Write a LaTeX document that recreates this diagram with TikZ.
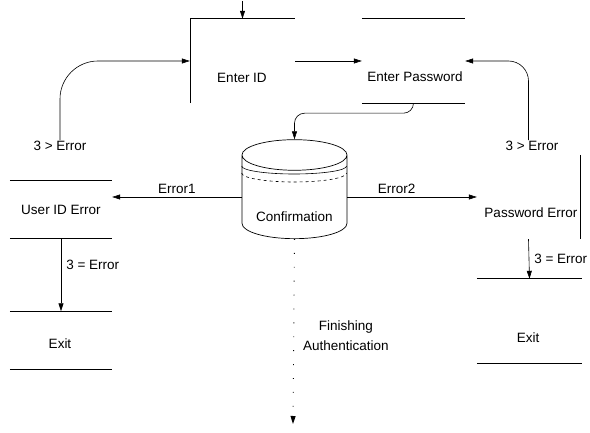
\documentclass[tikz,border=0pt]{standalone}
\usepackage{fontspec}
\setmainfont{Liberation Sans}
\usetikzlibrary{shapes.geometric, arrows.meta, positioning, calc}
\tikzset{
  box/.style={rectangle, inner sep=0pt, font=\fontsize{13.5}{20}\selectfont},
  txt/.style={inner sep=1pt, font=\fontsize{13.5}{20}\selectfont},
  store/.style={cylinder, shape border rotate=90, aspect=0.4, draw,
    minimum width=105pt, minimum height=99pt, inner sep=0pt,
    line width=0.7pt, font=\fontsize{13.5}{20}\selectfont},
  arrow/.style={-{Triangle[length=8pt, width=5pt]}, line width=0.6pt},
  line/.style={line width=0.6pt},
  dotflow/.style={-{Triangle[length=8pt, width=5pt]}, line width=0.9pt,
    dash pattern=on 0.9pt off 13pt}
}
\begin{document}
\begin{tikzpicture}[x=1pt, y=-1pt]
  \useasboundingbox (0,0) rectangle (590,433);

  % boxes
  \node[box, minimum width=105pt, minimum height=84pt] (enterid) at (242.5,61) {};
  \node[txt] (enteridtxt) at (242,78) {Enter ID};
  \node[box, minimum width=103pt, minimum height=84pt] (enterpw) at (413.5,61) {};
  \node[txt] (enterpwtxt) at (415,77) {Enter Password};
  \node[store] (confirm) at (294.5,197) {\raisebox{-20pt}[\height][\depth]{Confirmation}};
  \node[box, minimum width=102pt, minimum height=57pt] (uiderr) at (61,209.5) {User ID Error};
  \node[box, minimum width=102pt, minimum height=58pt] (exitl) at (61,340.5) {};
  \node[txt] (exitltxt) at (60,344) {Exit};
  \node[box, minimum width=103pt, minimum height=84pt] (pwerr) at (528.5,197) {};
  \node[txt] (pwerrtxt) at (531,213) {Password Error};
  \node[box, minimum width=105pt, minimum height=84pt] (exitr) at (529.5,321) {};
  \node[txt] (exitrtxt) at (528,338) {Exit};

  % box edges
  \draw[line] (enterid.south west) -- (enterid.north west) -- (enterid.north east);
  \foreach \b in {enterpw, uiderr, exitl, exitr}
    \draw[line] (\b.north west) -- (\b.north east) (\b.south west) -- (\b.south east);
  \draw[line] (pwerr.north east) -- (pwerr.south east);

  % layers of the store
  \draw[line] ($(confirm.west)+(0,-31)$) arc[start angle=180, end angle=360, x radius=52.5pt, y radius=8pt];
  \draw[line, dashed] ($(confirm.west)+(0,-24)$) arc[start angle=180, end angle=360, x radius=52.5pt, y radius=9pt];

  % loose ends
  \coordinate (topin) at (242.5,1);
  \coordinate (finend) at (293,424);

  % labels
  \node[txt] (lbla) at (60,146) {3 > Error};
  \node[txt] (lblb) at (532,146) {3 > Error};

  % flows
  \draw[arrow] (topin) -- (enterid.north);
  \draw[arrow] (enterid.east) -- (enterpw.west);
  \draw[arrow, rounded corners=38pt] (lbla.north) |- (enterid.west);
  \draw[arrow, rounded corners=20pt] (pwerr.north |- lblb.north) |- (enterpw.east);
  \draw[arrow, rounded corners=10pt] (enterpw.south) -- ++(0,10) -| (confirm.north);
  \draw[arrow] (confirm.west) -- (confirm.west -| uiderr.east)
    node[txt, midway, above=2pt] (err1) {Error1};
  \draw[arrow] (confirm.east) -- (confirm.east -| pwerr.west)
    node[txt, pos=0.38, above=2pt] (err2) {Error2};
  \draw[arrow] (uiderr.south) -- (exitl.north)
    node[txt, pos=0.37, right=4pt] (lblc) {3 = Error};
  \draw[arrow] (pwerr.south) -- (exitr.north)
    node[txt, midway, right=4pt] (lbld) {3 = Error};
  \draw[dotflow] (confirm.south) -- (finend)
    node[txt, pos=0.52, right=8pt, align=center] (finish) {Finishing\\Authentication};
\end{tikzpicture}
\end{document}
